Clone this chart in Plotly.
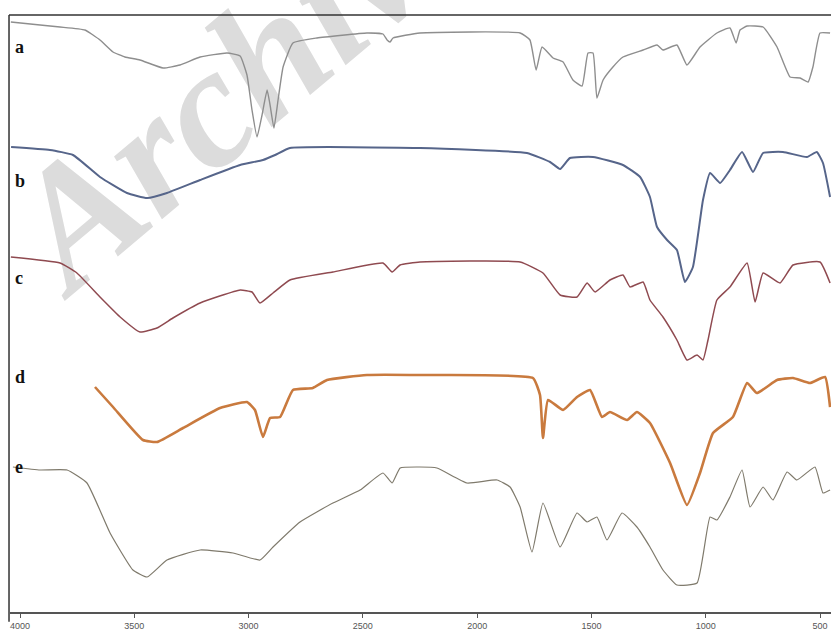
import plotly.graph_objects as go

# Wavenumbers (cm-1) and relative transmittance (a.u., stacked)
a_wn = [4040, 3912, 3825, 3716, 3650, 3593, 3541, 3475, 3374, 3300, 3212, 3094, 3037, 3007, 2985, 2963,
        2941, 2919, 2906, 2889, 2871, 2849, 2806, 2701, 2482, 2412, 2394, 2381, 2368, 2250, 1812, 1769,
        1742, 1716, 1668, 1624, 1581, 1541, 1515, 1493, 1476, 1449, 1406, 1362, 1274, 1213, 1187, 1126,
        1082, 1025, 951, 894, 867, 850, 819, 749, 688, 631, 587, 552, 531, 500, 456]
a_t = [590, 587, 585, 582, 572, 560, 555, 552, 544, 547, 555, 559, 556, 537, 502, 475,
       497, 522, 507, 484, 512, 545, 569, 574, 579, 578, 572, 570, 574, 579, 579, 572,
       542, 565, 554, 550, 532, 526, 559, 559, 514, 532, 545, 555, 562, 567, 562, 567,
       547, 565, 579, 584, 569, 582, 586, 585, 565, 535, 534, 530, 545, 579, 579]

b_wn = [4039, 3869, 3768, 3650, 3532, 3444, 3357, 3212, 3037, 2937, 2884, 2819, 2250, 1782, 1681, 1637,
        1594, 1493, 1362, 1287, 1244, 1213, 1169, 1126, 1091, 1056, 1012, 981, 937, 894, 841, 793,
        749, 662, 557, 514, 487, 456]
b_t = [465, 462, 457, 435, 419, 414, 419, 432, 447, 452, 457, 464, 464, 459, 450, 443,
       454, 455, 447, 435, 415, 385, 372, 362, 330, 345, 412, 439, 429, 442, 460, 440,
       459, 460, 455, 460, 449, 415]

c_wn = [4040, 3825, 3751, 3650, 3562, 3475, 3401, 3331, 3212, 3037, 2985, 2950, 2893, 2819, 2631, 2412,
        2372, 2337, 2250, 1812, 1712, 1637, 1563, 1519, 1484, 1419, 1362, 1331, 1274, 1244, 1187, 1126,
        1082, 1038, 1012, 990, 951, 894, 819, 784, 749, 675, 618, 500, 456]
c_t = [355, 349, 339, 315, 295, 280, 284, 294, 309, 322, 320, 309, 319, 332, 340, 349,
       340, 347, 350, 350, 339, 317, 315, 329, 320, 332, 337, 325, 330, 312, 295, 272,
       252, 257, 252, 272, 312, 325, 349, 310, 339, 329, 347, 350, 329]

d_wn = [3672, 3593, 3462, 3401, 3287, 3125, 3007, 2972, 2937, 2906, 2862, 2806, 2719, 2657, 2482, 2250,
        1756, 1725, 1712, 1690, 1624, 1563, 1506, 1454, 1419, 1344, 1301, 1244, 1156, 1082, 1025, 968,
        881, 819, 776, 688, 618, 544, 478, 456]
d_t = [225, 205, 172, 170, 184, 204, 210, 202, 175, 194, 195, 222, 224, 232, 237, 237,
       234, 217, 174, 212, 202, 215, 222, 195, 200, 192, 200, 189, 149, 107, 139, 179,
       195, 229, 219, 232, 234, 229, 235, 205]

e_wn = [4031, 3912, 3794, 3707, 3606, 3506, 3444, 3357, 3212, 3068, 2950, 2893, 2775, 2631, 2512, 2412,
        2372, 2337, 2250, 2176, 2044, 1913, 1856, 1812, 1760, 1712, 1637, 1563, 1519, 1476, 1432, 1366,
        1301, 1244, 1187, 1126, 1038, 981, 951, 894, 841, 806, 749, 706, 644, 601, 522, 487, 456]
e_t = [145, 142, 142, 129, 79, 42, 35, 52, 62, 59, 52, 65, 90, 109, 122, 139,
       129, 144, 145, 144, 129, 132, 125, 105, 60, 109, 65, 99, 90, 95, 72, 99,
       85, 65, 42, 27, 29, 95, 92, 115, 142, 105, 125, 112, 140, 132, 145, 119, 122]

series_names = ["a", "b", "c", "d", "e"]
series_colors = ["#8e8e8e", "#56658a", "#8f4a50", "#c97a3e", "#7f7a6c"]
series_widths = [1.4, 2.0, 1.5, 2.6, 1.2]
tick_vals = [4000, 3500, 3000, 2500, 2000, 1500, 1000, 500]
tick_text = ["4000", "3500", "3000", "2500", "2000", "1500", "1000", "500"]
label_y = [0.923, 0.704, 0.546, 0.384, 0.237]

fig = go.Figure()
for name, wn, t, col, w in zip(series_names, [a_wn, b_wn, c_wn, d_wn, e_wn],
                               [a_t, b_t, c_t, d_t, e_t], series_colors, series_widths):
    fig.add_trace(go.Scatter(x=wn, y=t, mode="lines", name=name,
                             line=dict(color=col, width=w, shape="spline", smoothing=0.4),
                             showlegend=False, hoverinfo="skip"))

# frame lines (top and left)
fig.add_shape(type="line", xref="paper", yref="paper", x0=-0.0012, x1=1.0, y0=0.9755, y1=0.9755,
              line=dict(color="#333333", width=1.5))
fig.add_shape(type="line", xref="paper", yref="paper", x0=-0.0012, x1=-0.0012, y0=-0.016, y1=0.9755,
              line=dict(color="#333333", width=1.5))

# watermark below traces
fig.add_shape(type="rect", xref="paper", yref="paper", x0=0.25, x1=0.296, y0=0.887, y1=0.923,
              line=dict(width=0), fillcolor="rgba(0,0,0,0)", layer="below",
              label=dict(text="Archive", textangle=-40, textposition="middle center",
                         font=dict(family="Liberation Serif", size=172, color="#dcdcdc",
                                   weight="bold", style="italic")))

for name, yy in zip(series_names, label_y):
    fig.add_annotation(text=name, xref="paper", yref="paper", x=0.004, y=yy,
                       xanchor="left", yanchor="middle", showarrow=False,
                       font=dict(family="Liberation Serif", size=18, color="#111111", weight="bold"))

fig.update_layout(
    width=831, height=633,
    margin=dict(l=10, r=0, t=0, b=21),
    paper_bgcolor="white", plot_bgcolor="white",
    xaxis=dict(range=[4043.75, 451.9], tickvals=tick_vals, ticktext=tick_text,
               showgrid=False, zeroline=False, showline=True, linecolor="#555555", linewidth=1.5,
               ticks="outside", ticklen=4, tickcolor="#555555",
               tickfont=dict(family="Liberation Sans", size=9, color="#555555")),
    yaxis=dict(range=[0, 612], visible=False, showgrid=False, zeroline=False),
)

fig.write_html("out.html", config={"displayModeBar": False},
               post_script="document.body.style.margin='0px';document.body.style.overflow='hidden';")
